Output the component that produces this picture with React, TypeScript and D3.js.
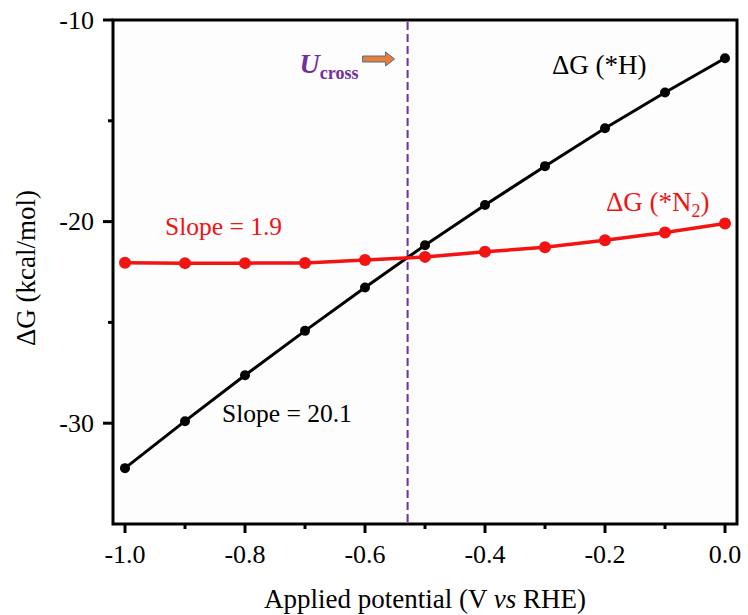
import { scaleLinear, line } from "d3";

// applied potential (V vs RHE)
const potentials = [-1.0, -0.9, -0.8, -0.7, -0.6, -0.5, -0.4, -0.3, -0.2, -0.1, 0.0];
// ΔG (*H), kcal/mol
const dgH = [-32.23, -29.9, -27.62, -25.42, -23.27, -21.17, -19.18, -17.25, -15.37, -13.6, -11.9];
// ΔG (*N2), kcal/mol
const dgN2 = [-22.04, -22.06, -22.06, -22.05, -21.9, -21.75, -21.5, -21.27, -20.92, -20.54, -20.09];

const uCross = -0.529;

const xTicks = [-1.0, -0.8, -0.6, -0.4, -0.2, 0.0];
const xMinorTicks = [-0.9, -0.7, -0.5, -0.3, -0.1];
const yTicks = [-30, -20, -10];
const yMinorTicks = [-25, -15];

const width = 748;
const height = 615;
const margin = { top: 20, right: 11, bottom: 91, left: 113 };
const innerWidth = width - margin.left - margin.right;
const innerHeight = height - margin.top - margin.bottom;

const font = "'Liberation Serif', 'Times New Roman', serif";
const red = "#f21313";
const purple = "#7030a0";

const App = () => {
  const xScale = scaleLinear().domain([-1.02, 0.02]).range([0, innerWidth]);
  const yScale = scaleLinear().domain([-35, -10]).range([innerHeight, 0]);

  const pathH = line<number>()
    .x((_, i) => xScale(potentials[i]))
    .y((d) => yScale(d))(dgH);
  const pathN2 = line<number>()
    .x((_, i) => xScale(potentials[i]))
    .y((d) => yScale(d))(dgN2);

  const ux = xScale(uCross);
  // arrow pointing at the crossing line
  const ax0 = ux - 45;
  const ax1 = ux - 13;
  const ay = 39;
  const arrow = [
    [ax0, ay - 3],
    [ax1 - 9, ay - 3],
    [ax1 - 9, ay - 7],
    [ax1, ay],
    [ax1 - 9, ay + 7],
    [ax1 - 9, ay + 3],
    [ax0, ay + 3],
  ]
    .map((p) => p.join(","))
    .join(" ");

  return (
    <svg
      width={width}
      height={height}
      style={{ position: "absolute", left: 0, top: 0, background: "#fff" }}
      fontFamily={font}
    >
      <g transform={`translate(${margin.left},${margin.top})`}>
        <rect width={innerWidth} height={innerHeight} fill="#fdfdfd" />

        {/* x ticks */}
        {xTicks.map((t) => (
          <g key={t} transform={`translate(${xScale(t)},${innerHeight})`}>
            <line y2={9} stroke="#000" strokeWidth={3} />
            <text y={39} textAnchor="middle" fontSize={26}>
              {t.toFixed(1)}
            </text>
          </g>
        ))}
        {xMinorTicks.map((t) => (
          <line
            key={t}
            x1={xScale(t)}
            x2={xScale(t)}
            y1={innerHeight}
            y2={innerHeight + 5}
            stroke="#000"
            strokeWidth={3}
          />
        ))}

        {/* y ticks */}
        {yTicks.map((t) => (
          <g key={t} transform={`translate(0,${yScale(t)})`}>
            <line x2={-10} stroke="#000" strokeWidth={3} />
            <text x={-19} dy="0.34em" textAnchor="end" fontSize={26}>
              {t}
            </text>
          </g>
        ))}
        {yMinorTicks.map((t) => (
          <line
            key={t}
            y1={yScale(t)}
            y2={yScale(t)}
            x2={-5}
            stroke="#000"
            strokeWidth={3}
          />
        ))}

        {/* U cross line */}
        <line
          x1={ux}
          x2={ux}
          y1={2}
          y2={innerHeight}
          stroke={purple}
          strokeWidth={2}
          strokeDasharray="8,4"
        />
        <polygon points={arrow} fill="#ed7d31" stroke="#41719c" strokeWidth={1} />
        <text x={ux - 108} y={53} fill={purple} fontWeight="bold">
          <tspan fontSize={28} fontStyle="italic">U</tspan>
          <tspan fontSize={18} dy={6}>cross</tspan>
        </text>

        {/* series */}
        <path d={pathH ?? ""} fill="none" stroke="#000" strokeWidth={3} />
        {dgH.map((d, i) => (
          <circle key={i} cx={xScale(potentials[i])} cy={yScale(d)} r={5} fill="#000" />
        ))}
        <path d={pathN2 ?? ""} fill="none" stroke={red} strokeWidth={3.5} />
        {dgN2.map((d, i) => (
          <circle key={i} cx={xScale(potentials[i])} cy={yScale(d)} r={6} fill={red} />
        ))}

        {/* labels */}
        <text x={439} y={54} fontSize={27} fill="#000">
          ΔG (*H)
        </text>
        <text x={493} y={191} fontSize={27} fill={red}>
          ΔG (*N
          <tspan fontSize={18} dy={6}>2</tspan>
          <tspan dy={-6}>)</tspan>
        </text>
        <text x={52} y={215} fontSize={25.5} fill={red}>
          Slope = 1.9
        </text>
        <text x={109} y={402} fontSize={25.5} fill="#000">
          Slope = 20.1
        </text>

        {/* frame */}
        <rect
          width={innerWidth}
          height={innerHeight}
          fill="none"
          stroke="#000"
          strokeWidth={3}
        />

        {/* axis titles */}
        <text
          x={innerWidth / 2}
          y={innerHeight + 84}
          textAnchor="middle"
          fontSize={27}
        >
          Applied potential (V <tspan fontStyle="italic">vs</tspan> RHE)
        </text>
        <text
          transform={`translate(${35 - margin.left},${innerHeight / 2 - 4}) rotate(-90)`}
          textAnchor="middle"
          fontSize={27}
        >
          ΔG (kcal/mol)
        </text>
      </g>
    </svg>
  );
};

export default App;
